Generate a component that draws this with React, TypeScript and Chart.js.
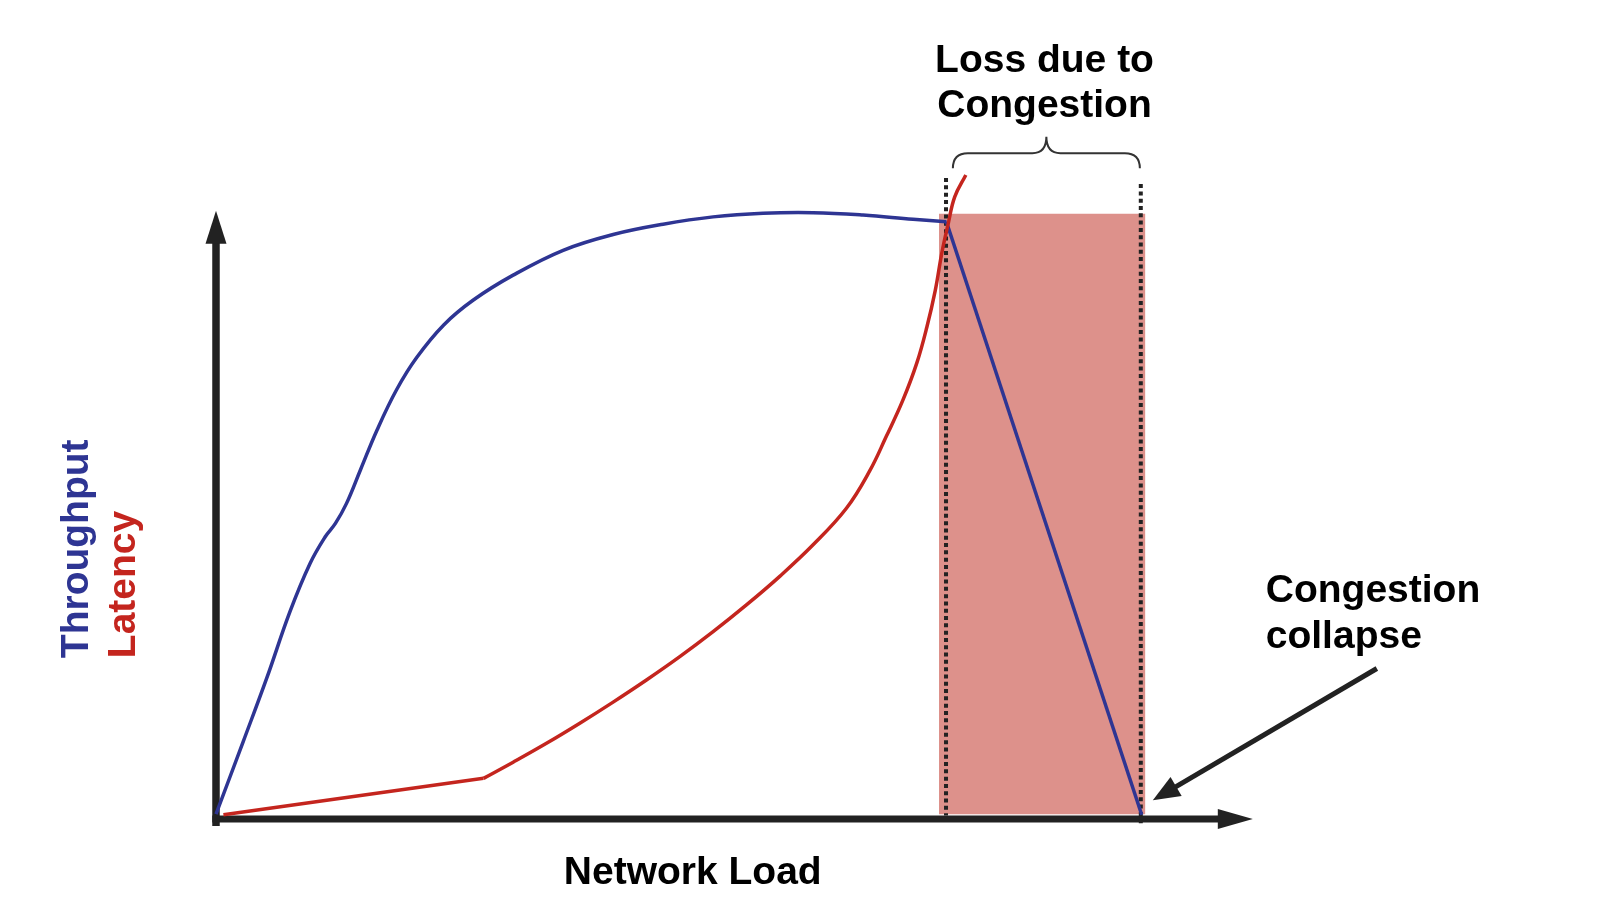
import { useEffect, useRef } from "react";
import { Chart, registerables } from "chart.js";

Chart.register(...registerables);

// Network load (x) vs normalised throughput / latency (y).
const THROUGHPUT_CURVE = [
  { x: 0, y: 0.8 },
  { x: 2.95, y: 12.8 },
  { x: 5.48, y: 23.2 },
  { x: 8.0, y: 34.2 },
  { x: 10.16, y: 42.1 },
  { x: 11.8, y: 46.5 },
  { x: 12.9, y: 48.7 },
  { x: 14.1, y: 52.0 },
  { x: 15.6, y: 57.5 },
  { x: 17.4, y: 64.1 },
  { x: 19.52, y: 70.76 },
  { x: 21.68, y: 76.03 },
  { x: 24.6, y: 81.4 },
  { x: 27.8, y: 85.5 },
  { x: 32.1, y: 89.6 },
  { x: 37.5, y: 93.7 },
  { x: 42.9, y: 96.3 },
  { x: 48.3, y: 98.0 },
  { x: 53.7, y: 99.2 },
  { x: 59.1, y: 99.8 },
  { x: 64.5, y: 99.9 },
  { x: 69.9, y: 99.5 },
  { x: 75.3, y: 98.8 },
  { x: 78.9, y: 98.4 },
];
const THROUGHPUT_COLLAPSE = [
  { x: 78.9, y: 98.4 },
  { x: 100, y: 0.7 },
];
const LATENCY_LINEAR = [
  { x: 0.8, y: 0.7 },
  { x: 28.9, y: 6.7 },
];
const LATENCY_CURVE = [
  { x: 28.9, y: 6.7 },
  { x: 32.1, y: 9.36 },
  { x: 35.7, y: 12.47 },
  { x: 39.3, y: 15.78 },
  { x: 42.9, y: 19.26 },
  { x: 46.5, y: 22.9 },
  { x: 50.1, y: 26.75 },
  { x: 53.7, y: 30.87 },
  { x: 57.3, y: 35.27 },
  { x: 60.9, y: 39.98 },
  { x: 64.5, y: 45.17 },
  { x: 68.1, y: 51.19 },
  { x: 70.6, y: 57.3 },
  { x: 72.4, y: 63.0 },
  { x: 74.2, y: 69.0 },
  { x: 75.7, y: 75.1 },
  { x: 76.8, y: 81.1 },
  { x: 77.7, y: 87.1 },
  { x: 78.4, y: 93.2 },
  { x: 79.1, y: 98.1 },
  { x: 79.8, y: 102.5 },
  { x: 81.0, y: 106.1 },
];
const LOSS_REGION_X = [78.1, 100.4];
const LOSS_REGION_Y = [0.8, 99.7];
const LOSS_START_MARKER = [
  { x: 78.86, y: 105.6 },
  { x: 78.86, y: 0.6 },
];
const LOSS_END_MARKER = [
  { x: 99.9, y: 104.6 },
  { x: 99.9, y: -1.0 },
];
const BRACKET_X = [79.6, 99.8];
const BRACKET_Y = [107.2, 109.7, 112.4]; // ends, bar, peak
const LOSS_LABEL = ["Loss due to", "Congestion"];
const LOSS_LABEL_POS = { x: 89.5, y: [123.1, 115.65] };
const COLLAPSE_LABEL = ["Congestion", "collapse"];
const COLLAPSE_LABEL_POS = { x: 113.4, y: [35.8, 28.2] };
const COLLAPSE_ARROW = { from: { x: 125.4, y: 24.8 }, to: { x: 101.2, y: 3.1 } };
const X_TITLE = "Network Load";
const X_TITLE_POS = { x: 51.5, y: -10.7 };
const Y_TITLES = ["Throughput", "Latency"];
const Y_TITLES_POS = { x: [-13.8, -8.8], y: 26.5 };
const X_AXIS_END = 112;
const Y_AXIS_END = 100.2;

const BLUE = "#2E3593";
const RED = "#C4251E";
const SHADE = "#DD918B";
const INK = "#222222";
const FONT = 'bold 39px "Liberation Sans", Arial, Helvetica, sans-serif';

const diagramPlugin = {
  id: "diagram",
  beforeDatasetsDraw(chart: any) {
    const { ctx } = chart;
    const xs = chart.scales.x;
    const ys = chart.scales.y;
    const X = (v: number) => xs.getPixelForValue(v);
    const Y = (v: number) => ys.getPixelForValue(v);
    const ox = X(0);
    const oy = Y(0);
    ctx.save();
    ctx.fillStyle = INK;
    ctx.strokeStyle = INK;
    // y axis
    const ty = Y(Y_AXIS_END);
    ctx.lineWidth = 7.5;
    ctx.beginPath();
    ctx.moveTo(ox, oy + 7);
    ctx.lineTo(ox, ty + 30);
    ctx.stroke();
    ctx.beginPath();
    ctx.moveTo(ox, ty);
    ctx.lineTo(ox - 10.5, ty + 33);
    ctx.lineTo(ox + 10.5, ty + 33);
    ctx.closePath();
    ctx.fill();
    // x axis
    const tx = X(X_AXIS_END);
    ctx.lineWidth = 7;
    ctx.beginPath();
    ctx.moveTo(ox - 3.7, oy);
    ctx.lineTo(tx - 30, oy);
    ctx.stroke();
    ctx.beginPath();
    ctx.moveTo(tx, oy);
    ctx.lineTo(tx - 35, oy - 10);
    ctx.lineTo(tx - 35, oy + 10);
    ctx.closePath();
    ctx.fill();
    ctx.restore();
  },
  afterDatasetsDraw(chart: any) {
    const { ctx } = chart;
    const xs = chart.scales.x;
    const ys = chart.scales.y;
    const X = (v: number) => xs.getPixelForValue(v);
    const Y = (v: number) => ys.getPixelForValue(v);
    ctx.save();

    // curly bracket
    const xl = X(BRACKET_X[0]);
    const xr = X(BRACKET_X[1]);
    const xm = (xl + xr) / 2;
    const yEnd = Y(BRACKET_Y[0]);
    const yBar = Y(BRACKET_Y[1]);
    const yPeak = Y(BRACKET_Y[2]);
    ctx.strokeStyle = "#333333";
    ctx.lineWidth = 2;
    ctx.beginPath();
    ctx.moveTo(xl, yEnd);
    ctx.quadraticCurveTo(xl, yBar, xl + 15, yBar);
    ctx.lineTo(xm - 14, yBar);
    ctx.quadraticCurveTo(xm, yBar, xm, yPeak);
    ctx.quadraticCurveTo(xm, yBar, xm + 14, yBar);
    ctx.lineTo(xr - 15, yBar);
    ctx.quadraticCurveTo(xr, yBar, xr, yEnd);
    ctx.stroke();

    // collapse arrow
    const ax0 = X(COLLAPSE_ARROW.from.x);
    const ay0 = Y(COLLAPSE_ARROW.from.y);
    const ax1 = X(COLLAPSE_ARROW.to.x);
    const ay1 = Y(COLLAPSE_ARROW.to.y);
    const ang = Math.atan2(ay1 - ay0, ax1 - ax0);
    const headLen = 27;
    const headHalf = 11;
    ctx.strokeStyle = INK;
    ctx.fillStyle = INK;
    ctx.lineWidth = 5;
    ctx.beginPath();
    ctx.moveTo(ax0, ay0);
    ctx.lineTo(ax1 - Math.cos(ang) * (headLen - 4), ay1 - Math.sin(ang) * (headLen - 4));
    ctx.stroke();
    const bx = ax1 - Math.cos(ang) * headLen;
    const by = ay1 - Math.sin(ang) * headLen;
    ctx.beginPath();
    ctx.moveTo(ax1, ay1);
    ctx.lineTo(bx + Math.sin(ang) * headHalf, by - Math.cos(ang) * headHalf);
    ctx.lineTo(bx - Math.sin(ang) * headHalf, by + Math.cos(ang) * headHalf);
    ctx.closePath();
    ctx.fill();

    // texts
    ctx.font = FONT;
    ctx.fillStyle = "#000000";
    ctx.textBaseline = "alphabetic";
    ctx.textAlign = "center";
    LOSS_LABEL.forEach((t, i) => ctx.fillText(t, X(LOSS_LABEL_POS.x), Y(LOSS_LABEL_POS.y[i])));
    ctx.fillText(X_TITLE, X(X_TITLE_POS.x), Y(X_TITLE_POS.y));
    ctx.textAlign = "left";
    COLLAPSE_LABEL.forEach((t, i) => ctx.fillText(t, X(COLLAPSE_LABEL_POS.x), Y(COLLAPSE_LABEL_POS.y[i])));

    const colors = [BLUE, RED];
    Y_TITLES.forEach((t, i) => {
      ctx.save();
      ctx.translate(X(Y_TITLES_POS.x[i]), Y(Y_TITLES_POS.y));
      ctx.rotate(-Math.PI / 2);
      ctx.fillStyle = colors[i];
      ctx.textAlign = "left";
      ctx.fillText(t, 0, 0);
      ctx.restore();
    });
    ctx.restore();
  },
};

export default function App() {
  const ref = useRef<HTMLCanvasElement>(null);
  useEffect(() => {
    document.body.style.margin = "0";
    const canvas = ref.current!;
    const lineBase = { pointRadius: 0, pointHoverRadius: 0, fill: false };
    const chart = new Chart(canvas, {
      type: "line",
      data: {
        datasets: [
          {
            ...lineBase,
            label: "Latency",
            data: LATENCY_CURVE,
            borderColor: RED,
            borderWidth: 3.5,
            tension: 0.4,
            order: 0,
          },
          {
            ...lineBase,
            label: "Latency (low load)",
            data: LATENCY_LINEAR,
            borderColor: RED,
            borderWidth: 3.5,
            tension: 0,
            order: 0,
          },
          {
            ...lineBase,
            label: "Throughput",
            data: THROUGHPUT_CURVE,
            borderColor: BLUE,
            borderWidth: 3.5,
            tension: 0.4,
            order: 1,
          },
          {
            ...lineBase,
            label: "Throughput collapse",
            data: THROUGHPUT_COLLAPSE,
            borderColor: BLUE,
            borderWidth: 3.5,
            tension: 0,
            order: 1,
          },
          {
            ...lineBase,
            label: "Loss start",
            data: LOSS_START_MARKER,
            borderColor: INK,
            borderWidth: 4,
            borderDash: [4, 3.3],
            borderCapStyle: "butt",
            order: 2,
          },
          {
            ...lineBase,
            label: "Loss end",
            data: LOSS_END_MARKER,
            borderColor: INK,
            borderWidth: 4,
            borderDash: [4, 3.3],
            borderCapStyle: "butt",
            order: 2,
          },
          {
            pointRadius: 0,
            label: "Loss due to congestion",
            data: [
              { x: LOSS_REGION_X[0], y: LOSS_REGION_Y[1] },
              { x: LOSS_REGION_X[1], y: LOSS_REGION_Y[1] },
            ],
            borderWidth: 0,
            borderColor: "rgba(0,0,0,0)",
            backgroundColor: SHADE,
            fill: { value: LOSS_REGION_Y[0] },
            order: 3,
          },
        ] as any,
      },
      options: {
        animation: false,
        responsive: false,
        devicePixelRatio: 1,
        layout: { padding: 0 },
        events: [],
        plugins: {
          legend: { display: false },
          title: { display: false },
          tooltip: { enabled: false },
        },
        scales: {
          x: { type: "linear", min: -23.333, max: 150.37, display: false },
          y: { type: "linear", min: -14.0, max: 134.93, display: false },
        },
      },
      plugins: [diagramPlugin],
    });
    return () => chart.destroy();
  }, []);
  return (
    <div style={{ width: 1608, height: 904, position: "relative" }}>
      <canvas ref={ref} width={1608} height={904} style={{ display: "block", width: 1608, height: 904 }} />
    </div>
  );
}
